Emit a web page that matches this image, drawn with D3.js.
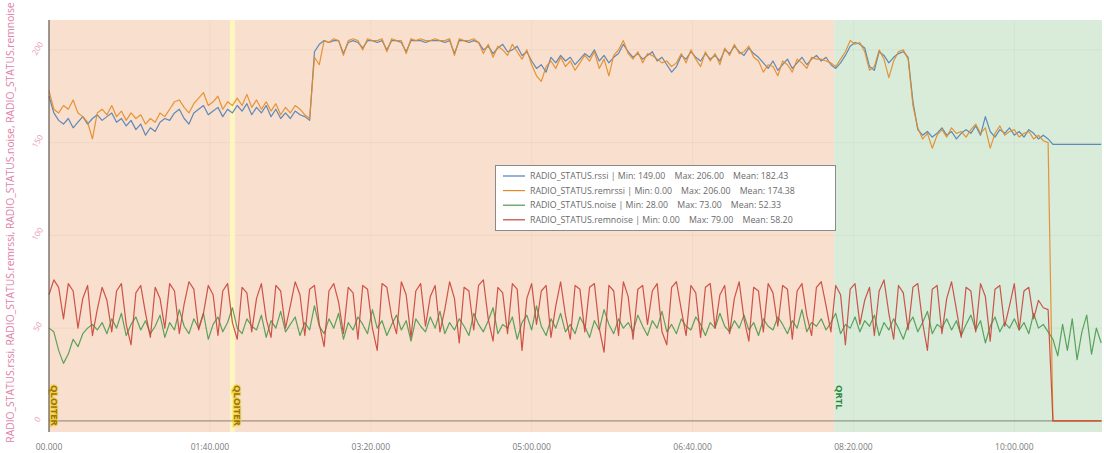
<!DOCTYPE html>
<html lang="en">
<head>
  <meta charset="UTF-8">
  <title>RADIO_STATUS</title>
  <script src="https://d3js.org/d3.v7.min.js"></script>
  <style>
    body { margin: 0; background: #fff; }
    svg { display: block; font-family: "Open Sans", "DejaVu Sans", sans-serif; }
    .legend text { white-space: pre; }
  </style>
</head>
<body>
  <div id="chart"></div>

  <script>
    // one sample every 3 s, from 0 to 654 s
    const step = 3;

    const rssi = [
      175, 166, 162, 160, 163, 158, 161, 164, 160, 163,
      165, 162, 164, 166, 161, 163, 159, 162, 157, 160,
      154, 158, 156, 161, 163, 162, 166, 168, 163, 160,
      166, 168, 170, 165, 167, 169, 164, 168, 166, 170,
      167, 171, 165, 169, 166, 170, 164, 168, 163, 166,
      163, 167, 165, 164, 162, 199, 203, 205, 204, 205,
      205, 198, 204, 205, 204, 201, 205, 205, 204, 205,
      200, 205, 205, 204, 199, 205, 205, 205, 204, 205,
      205, 205, 204, 205, 198, 205, 205, 204, 205, 204,
      200, 202, 198, 201, 203, 199, 200, 202, 197, 199,
      194, 190, 192, 188, 196, 193, 197, 194, 196, 192,
      195, 198, 196, 200, 194, 197, 193, 196, 198, 203,
      199, 196, 198, 195, 197, 199, 194, 196, 192, 188,
      191, 197, 195, 199, 196, 194, 198, 195, 197, 194,
      200, 198, 202, 199, 197, 201, 198, 196, 193, 190,
      194, 189, 192, 195, 190, 193, 196, 192, 195, 197,
      194, 196, 192, 190, 193, 197, 202, 204, 203, 201,
      191, 189, 199, 197, 193, 196, 198, 199, 196, 172,
      157, 154, 156, 153, 155, 158, 154, 156, 152, 155,
      157, 155, 159, 154, 164, 156, 153, 157, 155, 158,
      154, 156, 153, 157, 155, 152, 154, 152, 149, 149,
      149, 149, 149, 149, 149, 149, 149, 149, 149
    ];

    const remrssi = [
      178, 168, 166, 170, 168, 173, 166, 164, 161, 152,
      166, 168, 165, 170, 164, 167, 162, 166, 163, 165,
      160, 163, 161, 166, 164, 168, 172, 173, 169, 166,
      171, 174, 177, 170, 172, 175, 168, 172, 170, 174,
      170, 176, 169, 173, 168, 172, 167, 171, 165, 169,
      166, 170, 168, 165, 163, 196, 192, 205, 204, 206,
      205, 197, 205, 206, 205, 200, 206, 205, 205, 206,
      199, 206, 205, 205, 198, 206, 205, 206, 205, 205,
      206, 205, 205, 206, 197, 206, 205, 205, 206, 204,
      198, 203, 196, 202, 200, 197, 203, 199, 195, 200,
      192, 186, 183, 191, 194, 190, 196, 191, 194, 189,
      193, 197, 194, 199, 190, 195, 186, 197, 200, 205,
      198, 195, 199, 193, 198, 197, 195, 193, 194, 191,
      193, 198, 193, 200, 195, 191, 199, 194, 198, 192,
      201, 197, 203, 198, 199, 202, 196, 194, 188, 192,
      191, 186, 194, 192, 188, 195, 193, 190, 196, 195,
      195, 194, 193, 191, 195, 199, 205, 203, 204, 199,
      189, 191, 200, 195, 185, 194, 199, 200, 195, 170,
      158, 152, 155, 147, 154, 157, 153, 158, 155, 156,
      153, 157, 160, 155, 158, 147, 155, 159, 154, 156,
      157, 153, 155, 156, 152, 154, 151, 150, 0, 0,
      0, 0, 0, 0, 0, 0, 0, 0, 0
    ];

    const noise = [
      50, 48, 38, 31, 36, 44, 40, 47, 50, 52,
      49, 53, 47, 55, 50, 58, 46, 52, 56, 49,
      54, 47, 51, 57, 45, 53, 49, 60, 51, 47,
      55, 50, 58, 44, 52, 56, 48, 53, 61, 50,
      47, 55, 51, 49, 57, 45, 54, 50, 59, 48,
      52, 56, 46, 53, 49, 62, 51, 47, 55, 50,
      58, 44, 53, 49, 56, 52, 47, 60, 50, 54,
      46, 52, 57, 49, 54, 43, 55, 51, 48, 56,
      50, 59, 47, 53, 49, 55, 51, 46, 58, 52,
      48, 54, 61, 47, 52, 50, 56, 44, 53, 57,
      49, 62, 51, 46, 55, 50, 58, 48, 52, 47,
      56, 51, 45, 54, 49, 60, 52, 47, 55, 50,
      53, 48, 57, 51, 46, 54, 50, 59, 48, 52,
      47, 55, 51, 49, 56, 52, 46, 53, 50, 58,
      51, 48, 54, 50, 57, 49, 53, 46, 55, 51,
      49, 56, 52, 47, 54, 50, 60, 48, 53, 51,
      55, 49, 53, 58, 47, 52, 50, 56, 48, 54,
      51, 57, 46, 53, 49, 55, 50, 44, 52, 56,
      48, 53, 59, 47, 52, 50, 55, 49, 54, 46,
      52, 57, 49, 54, 42, 51, 56, 48, 53, 50,
      55, 49, 53, 47, 58, 50, 52, 48, 44, 35,
      52, 38, 55, 33, 48, 57, 36, 50, 42
    ];

    const remnoise = [
      68, 76, 72, 55, 74, 70, 50, 66, 73, 46,
      60, 72, 65, 48, 70, 74, 52, 41, 69, 73,
      58, 45, 72, 66, 50, 74, 70, 47, 63, 75,
      71, 49, 58, 73, 68, 46, 70, 74, 53, 44,
      72, 69, 48, 66, 74, 55, 45, 73, 70, 50,
      62, 75, 68, 46, 71, 73, 52, 40, 70, 74,
      64, 47, 72, 69, 44, 73, 71, 50, 38, 74,
      72, 56, 47, 75, 68, 45, 70, 74, 51, 67,
      73, 48, 60, 75, 66, 42, 72, 70, 49, 73,
      76, 55, 43, 72, 69, 47, 74, 71, 38, 66,
      74, 52, 70, 73, 45, 62, 75, 57, 44, 73,
      71, 48, 72, 74, 50, 37, 73, 70, 46, 75,
      67, 44, 71, 73, 52, 70, 74, 48, 41, 72,
      75, 60, 46, 73, 69, 45, 72, 74, 50, 68,
      73, 47, 66, 75, 55, 43, 72, 70, 48, 74,
      69, 51, 73, 71, 44, 70, 74, 57, 46, 72,
      75, 62, 48, 73, 68, 41, 71, 74, 52, 65,
      72, 46, 70, 76, 58, 44, 73, 69, 49, 72,
      74, 53, 38, 71, 73, 47, 66, 75, 60, 45,
      72, 70, 48, 74, 67, 43, 71, 73, 51, 62,
      74, 49, 70, 72, 55, 65, 61, 60, 0, 0,
      0, 0, 0, 0, 0, 0, 0, 0, 0
    ];

    const seriesNames = ["RADIO_STATUS.rssi", "RADIO_STATUS.remrssi", "RADIO_STATUS.noise", "RADIO_STATUS.remnoise"];
    const seriesColors = ["#4f7fb3", "#e38b26", "#4a9a4c", "#c9433a"];
    const seriesMin = ["149.00", "0.00", "28.00", "0.00"];
    const seriesMax = ["206.00", "206.00", "73.00", "79.00"];
    const seriesMean = ["182.43", "174.38", "52.33", "58.20"];

    // flight modes: name and start time (s)
    const modeNames = ["QLOITER", "QLOITER", "QRTL"];
    const modeStarts = [0, 114, 488];
    const tEnd = 654.5;

    const yTicks = [0, 50, 100, 150, 200];
    const xTicks = [0, 100, 200, 300, 400, 500, 600];

    const modeFill = { QLOITER: "#f9dfcd", QRTL: "#d9ecda" };
    const modeText = { QLOITER: "#9a7506", QRTL: "#2f8a3a" };

    const width = 1104, height = 453;
    const margin = { top: 20, right: 2, bottom: 21, left: 49 };

    const svg = d3.select("#chart").append("svg")
      .attr("width", width)
      .attr("height", height);

    const x = d3.scaleLinear().domain([0, tEnd]).range([margin.left, width - margin.right]);
    const y = d3.scaleLinear().domain([-6, 216.1]).range([height - margin.bottom, margin.top]);

    const times = d3.range(rssi.length).map(i => i * step);

    // background per flight mode
    const modeEnds = modeStarts.slice(1).concat([tEnd]);
    svg.append("g").selectAll("rect")
      .data(modeNames)
      .enter()
      .append("rect")
      .attr("x", (d, i) => x(modeStarts[i]))
      .attr("y", margin.top)
      .attr("width", (d, i) => x(modeEnds[i]) - x(modeStarts[i]))
      .attr("height", height - margin.top - margin.bottom)
      .attr("fill", d => modeFill[d]);

    // faint grid
    svg.append("g").selectAll("line")
      .data(yTicks.filter(v => v > 0))
      .enter()
      .append("line")
      .attr("x1", margin.left).attr("x2", width - margin.right)
      .attr("y1", d => y(d)).attr("y2", d => y(d))
      .attr("stroke", "rgba(0,0,0,0.04)");
    svg.append("g").selectAll("line")
      .data(xTicks.filter(v => v > 0))
      .enter()
      .append("line")
      .attr("x1", d => x(d)).attr("x2", d => x(d))
      .attr("y1", margin.top).attr("y2", height - margin.bottom)
      .attr("stroke", "rgba(0,0,0,0.03)");

    // pale yellow marker where the same mode is entered again
    svg.append("g").selectAll("rect")
      .data(modeNames.filter((d, i) => i > 0 && d === modeNames[i - 1]))
      .enter()
      .append("rect")
      .attr("x", d => x(modeStarts[modeNames.lastIndexOf(d)]) - 2.5)
      .attr("y", margin.top)
      .attr("width", 5)
      .attr("height", height - margin.top - margin.bottom)
      .attr("fill", "#fdf7bf");

    // zero line
    svg.append("line")
      .attr("x1", margin.left).attr("x2", width - margin.right)
      .attr("y1", y(0)).attr("y2", y(0))
      .attr("stroke", "rgba(90,85,70,0.55)")
      .attr("stroke-width", 1.2);

    // series lines
    const allSeries = [rssi, remrssi, noise, remnoise];
    const line = d3.line()
      .x((d, i) => x(times[i]))
      .y(d => y(d));

    svg.append("g").selectAll("path")
      .data(allSeries)
      .enter()
      .append("path")
      .attr("d", d => line(d))
      .attr("fill", "none")
      .attr("stroke", (d, i) => seriesColors[i])
      .attr("stroke-width", 1.2)
      .attr("stroke-linejoin", "round")
      .attr("opacity", 0.9);

    // mode labels, rotated
    svg.append("g").selectAll("text")
      .data(modeNames)
      .enter()
      .append("text")
      .attr("transform", (d, i) => `translate(${x(modeStarts[i]) + 1.5},385) rotate(90)`)
      .attr("font-size", 9.5)
      .attr("font-weight", "bold")
      .attr("fill", d => modeText[d])
      .attr("stroke", d => d === "QLOITER" ? "rgba(240,205,50,0.75)" : "none")
      .attr("stroke-width", 2.5)
      .attr("paint-order", "stroke")
      .text(d => d);

    // left axis line
    svg.append("line")
      .attr("x1", margin.left).attr("x2", margin.left)
      .attr("y1", margin.top).attr("y2", height - margin.bottom)
      .attr("stroke", "#5f5854")
      .attr("stroke-width", 1.2);

    // y tick labels
    svg.append("g").selectAll("text")
      .data(yTicks)
      .enter()
      .append("text")
      .attr("transform", d => `translate(40,${y(d)}) rotate(-60)`)
      .attr("text-anchor", "middle")
      .attr("font-size", 8)
      .attr("fill", "#e79ab8")
      .text(d => d);

    // y axis title
    svg.append("text")
      .attr("transform", `translate(14,${height / 2 - 4}) rotate(-90)`)
      .attr("text-anchor", "middle")
      .attr("font-size", 10.3)
      .attr("fill", "#e083a8")
      .text(seriesNames.join(", "));

    // x tick labels
    function fmtTime(s) {
      const m = Math.floor(s / 60), sec = s % 60;
      const ss = String(sec).padStart(2, "0") + ".000";
      return m === 0 ? ss : String(m).padStart(2, "0") + ":" + ss;
    }
    svg.append("g").selectAll("text")
      .data(xTicks)
      .enter()
      .append("text")
      .attr("x", d => x(d))
      .attr("y", 450)
      .attr("text-anchor", "middle")
      .attr("font-size", 8.5)
      .attr("fill", "#7a7a7a")
      .text(d => fmtTime(d));

    // legend
    const legend = svg.append("g").attr("class", "legend");
    legend.append("rect")
      .attr("x", 495.5).attr("y", 165.5)
      .attr("width", 340).attr("height", 65)
      .attr("fill", "#fff")
      .attr("stroke", "#8a8a8a")
      .attr("stroke-width", 1);

    const rows = legend.selectAll("g")
      .data(seriesNames)
      .enter()
      .append("g")
      .attr("transform", (d, i) => `translate(0,${176 + i * 14.6})`);

    rows.append("line")
      .attr("x1", 503).attr("x2", 525)
      .attr("y1", 0).attr("y2", 0)
      .attr("stroke", (d, i) => seriesColors[i])
      .attr("stroke-width", 1.2);

    rows.append("text")
      .attr("x", 530)
      .attr("y", 3)
      .attr("font-size", 8.8)
      .attr("fill", "#6a6a6a")
      .text((d, i) => `${d} | Min: ${seriesMin[i]}    Max: ${seriesMax[i]}    Mean: ${seriesMean[i]}`);
  </script>
</body>
</html>
